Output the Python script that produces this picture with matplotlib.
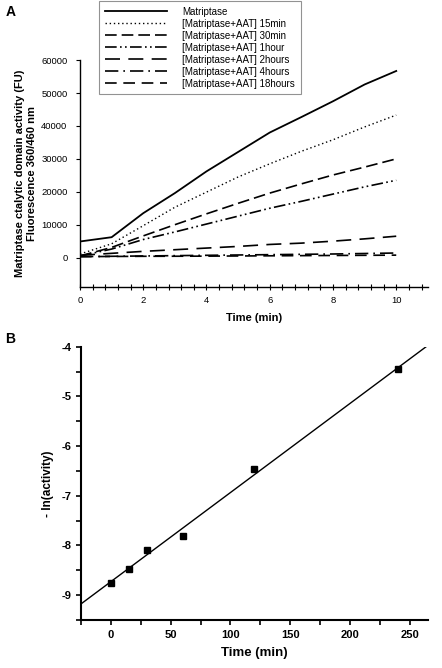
import numpy as np
import matplotlib
matplotlib.use('Agg')
import matplotlib.pyplot as plt
from matplotlib.ticker import MultipleLocator

plt.rcParams['font.family'] = ['Liberation Sans', 'DejaVu Sans']
plt.rcParams['axes.unicode_minus'] = False

# panel A: fluorescence vs time
time_a = [0, 1, 2, 3, 4, 5, 6, 7, 8, 9, 10]
matriptase = [4900, 6200, 13500, 19600, 26200, 32100, 38000, 42700, 47500, 52600, 56700]
aat_15min = [1100, 4200, 9700, 15300, 19900, 24500, 28500, 32300, 35800, 39700, 43300]
aat_30min = [500, 3100, 6600, 10000, 13300, 16500, 19600, 22400, 25100, 27500, 30000]
aat_1hour = [500, 2600, 5500, 7800, 10200, 12600, 15000, 17100, 19300, 21500, 23500]
aat_2hours = [700, 1300, 1900, 2400, 2900, 3400, 4000, 4400, 5000, 5700, 6500]
aat_4hours = [300, 400, 500, 600, 700, 800, 900, 1000, 1100, 1250, 1400]
aat_18hours = [300, 350, 400, 420, 450, 500, 550, 600, 650, 700, 750]

labels_a = ['Matriptase', '[Matriptase+AAT] 15min', '[Matriptase+AAT] 30min',
            '[Matriptase+AAT] 1hour', '[Matriptase+AAT] 2hours',
            '[Matriptase+AAT] 4hours', '[Matriptase+AAT] 18hours']

# panel B: -ln(activity) vs incubation time
time_b = [0, 15, 30, 60, 120, 240]
neg_ln_act = [-8.75, -8.47, -8.09, -7.81, -6.47, -4.45]

fig = plt.figure(figsize=(4.42, 6.68), dpi=100)

# ---- panel A ----
ax1 = fig.add_axes([0.181, 0.570, 0.787, 0.340])
series = [matriptase, aat_15min, aat_30min, aat_1hour, aat_2hours, aat_4hours, aat_18hours]
styles = ['-', (0, (1, 2)), (0, (7, 3)), (0, (7, 2, 1, 2, 1, 2)),
          (0, (9, 5)), (0, (8, 3, 1, 3)), (0, (7, 4))]
widths = [1.3, 1.0, 1.2, 1.2, 1.2, 1.2, 1.2]
for s, ls, lw, lab in zip(series, styles, widths, labels_a):
    ax1.plot(time_a, s, color='black', linestyle=ls, linewidth=lw, label=lab)

ax1.set_xlim(0, 11)
ax1.set_ylim(-9000, 60000)
ax1.set_xticks([0, 2, 4, 6, 8, 10])
ax1.xaxis.set_minor_locator(MultipleLocator(0.4))
ax1.set_yticks([0, 10000, 20000, 30000, 40000, 50000, 60000])
for sp in ['top', 'right']:
    ax1.spines[sp].set_visible(False)
for sp in ['left', 'bottom']:
    ax1.spines[sp].set_linewidth(1.0)
ax1.tick_params(axis='x', which='both', direction='inout', length=5, width=0.8,
                labelsize=6.8)
ax1.tick_params(axis='y', which='major', direction='out', length=3, width=0.8,
                labelsize=6.8, pad=6)
ax1.set_xlabel('Time (min)', fontsize=8, fontweight='bold', labelpad=6)
ax1.set_ylabel('Matriptase ctalytic domain activity (FU)\nFluorescence 360/460 nm',
               fontsize=8, fontweight='bold', labelpad=3)

leg = ax1.legend(loc='upper left', bbox_to_anchor=(0.224, 0.9985),
                 bbox_transform=fig.transFigure, fontsize=7, frameon=True,
                 fancybox=False, edgecolor='#777777', handlelength=6.4,
                 handletextpad=1.55, labelspacing=0.2, borderpad=0.6,
                 borderaxespad=0)
leg.get_frame().set_linewidth(0.8)

# ---- panel B ----
ax2 = fig.add_axes([0.183, 0.072, 0.785, 0.409])
ax2.plot(time_b, neg_ln_act, linestyle='none', marker='s', markersize=4,
         color='black')
slope, icpt = np.polyfit(time_b, neg_ln_act, 1)
xfit = np.array([-25, 270])
ax2.plot(xfit, slope * xfit + icpt, color='black', linewidth=1.0)

ax2.set_xlim(-25, 265)
ax2.set_ylim(-9.5, -4)
ax2.set_xticks([0, 50, 100, 150, 200, 250])
ax2.xaxis.set_minor_locator(MultipleLocator(25))
ax2.set_yticks([-9, -8, -7, -6, -5, -4])
ax2.yaxis.set_minor_locator(MultipleLocator(0.5))
for sp in ['top', 'right']:
    ax2.spines[sp].set_visible(False)
for sp in ['left', 'bottom']:
    ax2.spines[sp].set_linewidth(1.5)
ax2.tick_params(axis='both', which='both', direction='out', length=3.5, width=1.2,
                labelsize=8)
for t in ax2.get_xticklabels() + ax2.get_yticklabels():
    t.set_fontweight('bold')
ax2.set_xlabel('Time (min)', fontsize=9.5, fontweight='bold', labelpad=5)
ax2.set_ylabel('- ln(activity)', fontsize=8.5, fontweight='bold', labelpad=5)

fig.text(0.012, 0.992, 'A', fontsize=10, fontweight='bold', va='top', ha='left')
fig.text(0.012, 0.503, 'B', fontsize=10, fontweight='bold', va='top', ha='left')

fig.savefig('out.png', dpi=100)
